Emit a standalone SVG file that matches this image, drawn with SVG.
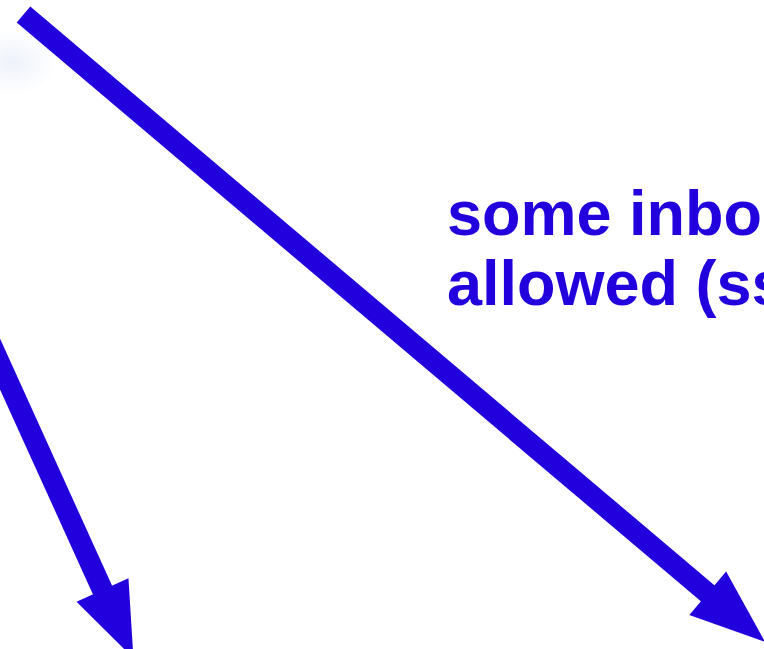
<svg xmlns="http://www.w3.org/2000/svg" width="764" height="649" viewBox="0 0 764 649">
  <style>
    .conn { stroke: #2200dd; stroke-width: 21; fill: none; stroke-linecap: butt; }
    .label { font-family: "Liberation Sans", Arial, sans-serif; font-weight: bold; font-size: 63px; fill: #2200dd; }
  </style>
  <defs>
    <marker id="head" markerUnits="userSpaceOnUse" markerWidth="76" markerHeight="57" refX="1" refY="28.5" orient="auto" overflow="visible">
      <path d="M0,0 L75,28.5 L0,57 Z" fill="#2200dd"/>
    </marker>
    <radialGradient id="glow" cx="0.5" cy="0.5" r="0.5">
      <stop offset="0" stop-color="#e6ecf9" stop-opacity="0.7"/>
      <stop offset="1" stop-color="#e6ecf9" stop-opacity="0"/>
    </radialGradient>
  </defs>
  <rect width="764" height="649" fill="#ffffff"/>
  <ellipse cx="12" cy="62" rx="45" ry="32" fill="url(#glow)"/>
  <g id="connectors">
    <line class="conn" x1="23.5" y1="14.5" x2="708.5" y2="594" marker-end="url(#head)"/>
    <line class="conn" x1="-30.5" y1="296.7" x2="102.9" y2="590.9" marker-end="url(#head)"/>
  </g>
  <g id="label-inbound">
    <text class="label" x="447" y="235">some inbo</text>
    <text class="label" x="447" y="305">allowed (ss</text>
  </g>
</svg>
